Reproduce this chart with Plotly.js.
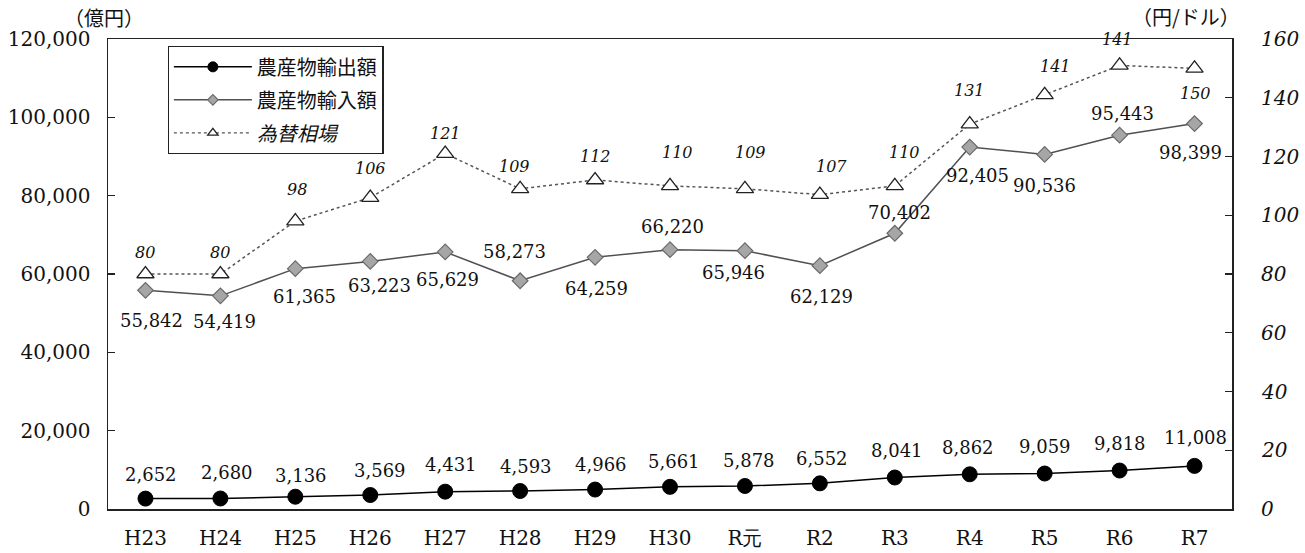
<!DOCTYPE html>
<html>
<head>
<meta charset="utf-8">
<script src="https://cdn.plot.ly/plotly-3.0.1.min.js"></script>
<style>html,body{margin:0;padding:0;background:#fff;}#chart{width:1305px;height:553px;}</style>
</head>
<body>
<div id="chart"></div>
<script>
// ---- data ----
const categories = ['H23','H24','H25','H26','H27','H28','H29','H30','R元','R2','R3','R4','R5','R6','R7'];
const exportValues = [2652, 2680, 3136, 3569, 4431, 4593, 4966, 5661, 5878, 6552, 8041, 8862, 9059, 9818, 11008];
const importValues = [55842, 54419, 61365, 63223, 65629, 58273, 64259, 66220, 65946, 62129, 70402, 92405, 90536, 95443, 98399];
const rateValues = [80, 80, 98, 106, 121, 109, 112, 110, 109, 107, 110, 131, 141, 151, 150];
const rateLabels = ['80','80','98','106','121','109','112','110','109','107','110','131','141','141','150'];
const seriesNames = ['農産物輸出額', '農産物輸入額', '為替相場'];
const leftTickVals = [0, 20000, 40000, 60000, 80000, 100000, 120000];
const rightTickVals = [0, 20, 40, 60, 80, 100, 120, 140, 160];

// ---- label placement (pixel offsets, style only) ----
const exportShiftY = [24,26,21,25,27,25,25,25,25,25,27,27,27,27,28];
const exportShiftX = [6,7,6,10,6,6,6,4,4,2,2,-2,0,0,1];
const importShiftY = [-30,-26,-28,-24,-28,29,-31,23,-22,-31,21,-28,-31,22,-29];
const importShiftX = [6,4,9,9,2,-6,1,2,-11,2,5,8,0,3,-4];
const rateShiftY = [22,22,32,29,20,22,24,33,36,28,33,34,28,26,-25];
const rateShiftX = [0,0,2,0,0,-6,0,7,6,12,10,0,11,-2,1];

const fmt = v => String(v).replace(/\B(?=(\d{3})+(?!\d))/g, ',');
const serif = 'DejaVu Serif, Liberation Serif, serif';
const cjk = 'Noto Sans CJK JP, sans-serif';

const exportStyle = {line: {color: '#000', width: 1.5}, marker: {symbol: 'circle', color: '#000', line: {color: '#000', width: 1}}};
const importStyle = {line: {color: '#505050', width: 1.5}, marker: {symbol: 'diamond', color: '#a6a6a6', line: {color: '#6a6a6a', width: 1.2}}};
const rateStyle = {line: {color: '#555', width: 1.5, dash: 'dot'}, marker: {symbol: 'triangle-up', color: '#fff', line: {color: '#222', width: 1.3}}};

const traces = [
  {
    x: categories, y: exportValues, name: seriesNames[0], type: 'scatter', mode: 'lines+markers',
    line: exportStyle.line, marker: Object.assign({size: 15}, exportStyle.marker),
    showlegend: false, hoverinfo: 'skip'
  },
  {
    x: categories, y: importValues, name: seriesNames[1], type: 'scatter', mode: 'lines+markers',
    line: importStyle.line, marker: Object.assign({size: 12}, importStyle.marker),
    showlegend: false, hoverinfo: 'skip'
  },
  {
    x: categories, y: rateValues, name: seriesNames[2], type: 'scatter', mode: 'lines+markers',
    yaxis: 'y2',
    line: rateStyle.line, marker: Object.assign({size: 15}, rateStyle.marker),
    showlegend: false, hoverinfo: 'skip'
  },
  // legend entries (no data drawn; smaller symbols for the legend box)
  {x: [null], y: [null], name: seriesNames[0], type: 'scatter', mode: 'lines+markers',
    line: exportStyle.line, marker: Object.assign({size: 10}, exportStyle.marker), legendgroup: 'a', hoverinfo: 'skip'},
  {x: [null], y: [null], name: seriesNames[1], type: 'scatter', mode: 'lines+markers',
    line: importStyle.line, marker: Object.assign({size: 8}, importStyle.marker), legendgroup: 'b', hoverinfo: 'skip'},
  {x: [null], y: [null], name: '<i>' + seriesNames[2] + '</i>', type: 'scatter', mode: 'lines+markers', yaxis: 'y2',
    line: {color: '#555', width: 1.2, dash: 'dot'}, marker: Object.assign({size: 9}, rateStyle.marker), legendgroup: 'c', hoverinfo: 'skip'}
];

const annotations = [];
categories.forEach((c, i) => {
  annotations.push({x: c, y: exportValues[i], xref: 'x', yref: 'y', text: fmt(exportValues[i]),
    showarrow: false, yshift: exportShiftY[i], xshift: exportShiftX[i],
    font: {family: serif, size: 18, color: '#111'}});
  annotations.push({x: c, y: importValues[i], xref: 'x', yref: 'y', text: fmt(importValues[i]),
    showarrow: false, yshift: importShiftY[i], xshift: importShiftX[i],
    font: {family: serif, size: 18, color: '#111'}});
  annotations.push({x: c, y: rateValues[i], xref: 'x', yref: 'y2', text: rateLabels[i],
    showarrow: false, yshift: rateShiftY[i], xshift: rateShiftX[i],
    font: {family: serif, size: 16, color: '#111', style: 'italic'}});
});
// right-axis tick labels (italic, left aligned)
rightTickVals.forEach(v => {
  annotations.push({xref: 'paper', yref: 'y2', x: 1, y: v, xanchor: 'left', yanchor: 'middle',
    xshift: 27, text: '<i>' + v + '</i>', showarrow: false,
    font: {family: serif, size: 20, color: '#111', style: 'italic'}});
});
annotations.push({xref: 'paper', yref: 'paper', x: -0.004, y: 1.045, xanchor: 'center', yanchor: 'middle',
  text: '（億円）', showarrow: false, font: {family: cjk, size: 20, color: '#111'}});
annotations.push({xref: 'paper', yref: 'paper', x: 0.959, y: 1.047, xanchor: 'center', yanchor: 'middle',
  text: '（円/ドル）', showarrow: false, font: {family: cjk, size: 20, color: '#111'}});

const layout = {
  width: 1305, height: 553,
  margin: {l: 108, r: 73, t: 39, b: 44, pad: 0},
  paper_bgcolor: '#fff', plot_bgcolor: '#fff',
  showlegend: true,
  legend: {
    x: 0.053, y: 0.985, xanchor: 'left', yanchor: 'top',
    bgcolor: '#fff', bordercolor: '#222', borderwidth: 1.3,
    font: {family: cjk, size: 20, color: '#111'},
    tracegroupgap: 4, itemwidth: 78
  },
  xaxis: {
    type: 'category', range: [-0.5, 14.5],
    showline: true, linecolor: '#222', linewidth: 1.5, mirror: true,
    showgrid: false, zeroline: false, ticks: '',
    tickfont: {family: serif, size: 20, color: '#111'},
    ticklabelstandoff: 10
  },
  yaxis: {
    range: [0, 120000], tickvals: leftTickVals, ticktext: leftTickVals.map(fmt),
    showline: true, linecolor: '#222', linewidth: 1.5,
    showgrid: false, zeroline: false,
    ticks: 'inside', ticklen: 7, tickcolor: '#222', tickwidth: 1.3,
    tickfont: {family: serif, size: 20, color: '#111'},
    ticklabelstandoff: 12
  },
  yaxis2: {
    overlaying: 'y', side: 'right', range: [0, 160], tickvals: rightTickVals,
    showline: true, linecolor: '#222', linewidth: 1.5,
    showgrid: false, zeroline: false, showticklabels: false,
    ticks: 'inside', ticklen: 7, tickcolor: '#222', tickwidth: 1.3
  },
  annotations: annotations
};

Plotly.newPlot('chart', traces, layout, {staticPlot: true, displayModeBar: false});
</script>
</body>
</html>
